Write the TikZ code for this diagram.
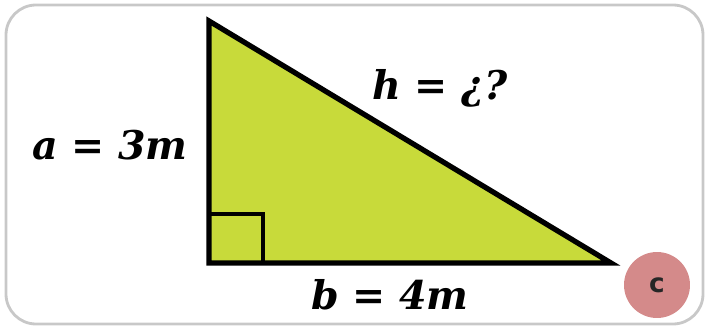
\documentclass[tikz,border=0pt]{standalone}
\usepackage{fontspec}
\setmainfont{DejaVu Serif}
\setsansfont{DejaVu Sans}
\usepackage{xcolor}
\usetikzlibrary{positioning,calc}
\definecolor{leaf}{HTML}{C8DA3A}
\definecolor{rosy}{HTML}{D48A8A}
\definecolor{frame}{HTML}{C8C8C8}

\begin{document}
\begin{tikzpicture}[x=0.02cm, y=-0.02cm,
    side/.style={font=\fontsize{22.5}{26}\selectfont\bfseries\itshape,
                 inner sep=0pt},
    badge/.style={circle, fill=rosy, minimum size=1.32cm, inner sep=0pt,
                  font=\sffamily\bfseries\fontsize{15}{17}\selectfont,
                  text=black!85}
]
\useasboundingbox (0,0) rectangle (707,328);
\draw[frame, line width=1.6pt, rounded corners=0.6cm] (6,5) rectangle (703,324);
\coordinate (top)   at (209,21);
\coordinate (corner) at (209,263);
\coordinate (tip)   at (611,263);
\draw[fill=leaf, line width=3pt, line join=miter] (top)--(corner)--(tip)--cycle;
\draw[line width=2.4pt] ($(corner)+(0,-49)$) -| ($(corner)+(54,0)$);
\node[side] (a) at (110,145) {a = 3m};
\node[side] (h) at (440,88)  {h = ¿?};
\node[side] (b) at (390,295) {b = 4m};
\node[badge] (c) at (657,285) {c};
\end{tikzpicture}
\end{document}
